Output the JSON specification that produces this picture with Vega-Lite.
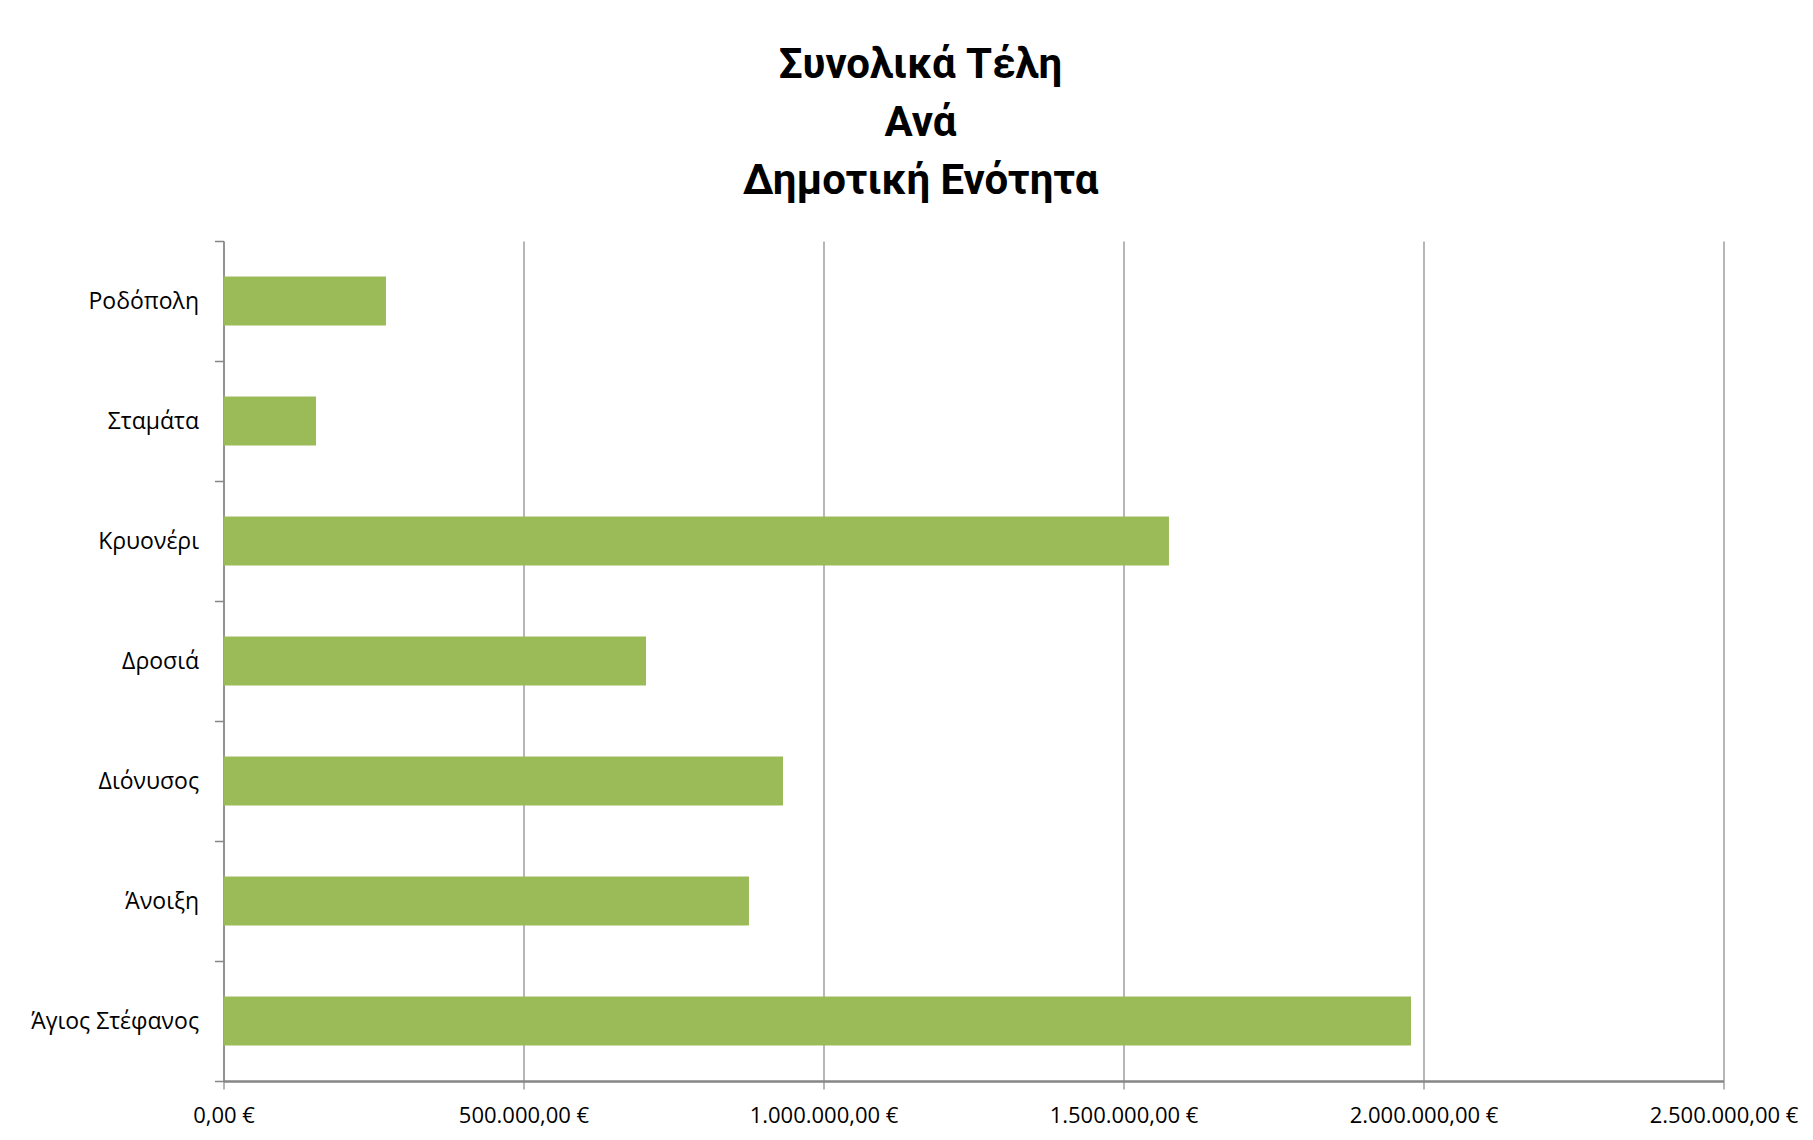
{
  "$schema": "https://vega.github.io/schema/vega-lite/v6.json",
  "width": 1500,
  "height": 840,
  "autosize": {"type": "none"},
  "padding": {"left": 223.5, "top": 241, "right": 89.5, "bottom": 59},
  "background": "white",
  "title": {
    "text": ["Συνολικά Τέλη", "Ανά", "Δημοτική Ενότητα"],
    "font": "Roboto",
    "fontSize": 42,
    "fontWeight": "bold",
    "color": "#000000",
    "lineHeight": 58,
    "anchor": "middle",
    "dx": -53,
    "offset": 27
  },
  "data": {
    "values": [
      {"area": "Ροδόπολη", "total": 270800},
      {"area": "Σταμάτα", "total": 154200},
      {"area": "Κρυονέρι", "total": 1575800},
      {"area": "Δροσιά", "total": 704200},
      {"area": "Διόνυσος", "total": 932500},
      {"area": "Άνοιξη", "total": 875800},
      {"area": "Άγιος Στέφανος", "total": 1979200}
    ]
  },
  "mark": {"type": "bar", "color": "#9BBB59", "height": {"band": 0.41}},
  "encoding": {
    "y": {
      "field": "area",
      "type": "nominal",
      "sort": null,
      "scale": {"paddingInner": 0, "paddingOuter": 0},
      "axis": {
        "title": null,
        "tickBand": "extent",
        "tickSize": 9,
        "tickColor": "#868686",
        "tickWidth": 1.5,
        "domainColor": "#868686",
        "domainWidth": 1.5,
        "labelFont": "Open Sans",
        "labelFontSize": 23,
        "labelColor": "#000000",
        "labelPadding": 16,
        "grid": false
      }
    },
    "x": {
      "field": "total",
      "type": "quantitative",
      "scale": {"domain": [0, 2500000], "nice": false},
      "axis": {
        "title": null,
        "values": [0, 500000, 1000000, 1500000, 2000000, 2500000],
        "format": "$,.2f",
        "grid": true,
        "gridColor": "#868686",
        "gridWidth": 1.2,
        "gridOpacity": 1,
        "tickSize": 8,
        "tickColor": "#868686",
        "tickWidth": 1.2,
        "domainColor": "#868686",
        "domainWidth": 2.5,
        "labelFont": "Open Sans",
        "labelFontSize": 22,
        "labelColor": "#000000",
        "labelPadding": 16,
        "labelFlush": false,
        "labelOverlap": false
      }
    }
  },
  "config": {
    "view": {"stroke": null},
    "locale": {
      "number": {
        "decimal": ",",
        "thousands": ".",
        "grouping": [3],
        "currency": ["", " €"]
      }
    }
  }
}
